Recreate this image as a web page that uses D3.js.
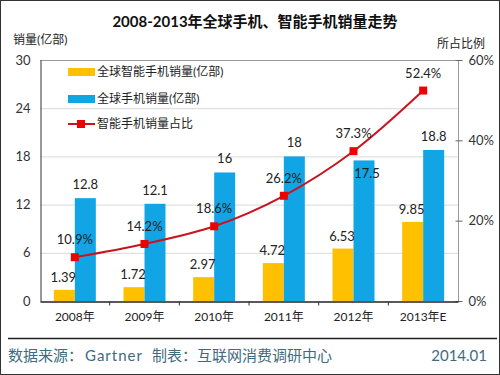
<!DOCTYPE html>
<html>
<head>
<meta charset="utf-8">
<script src="https://cdn.jsdelivr.net/npm/d3@7"></script>
<style>
  body { margin: 0; background: #fff; }
  text { font-family: "Lato", "Noto Sans CJK SC", sans-serif; }
</style>
</head>
<body>
<div id="chart"></div>
<script>
const years = ["2008年", "2009年", "2010年", "2011年", "2012年", "2013年E"]
const smartSales = [1.39, 1.72, 2.97, 4.72, 6.53, 9.85]
const totalSales = [12.8, 12.1, 16, 18, 17.5, 18.8]
const smartShare = [10.9, 14.2, 18.6, 26.2, 37.3, 52.4]
const leftTicks = [0, 6, 12, 18, 24, 30]
const rightTicks = [0, 20, 40, 60]

const width = 500
const height = 375
const margin = { top: 60, bottom: 74, left: 40, right: 42 }

const svg = d3.select("#chart").append("svg").attr("width", width).attr("height", height)

svg.append("rect").attr("x", 0.5).attr("y", 0.5).attr("width", width - 1).attr("height", height - 1)
    .attr("fill", "#fff").attr("stroke", "#333")

const x = d3.scaleBand().domain(years).range([margin.left, width - margin.right])
const y = d3.scaleLinear().domain([0, 30]).range([height - margin.bottom, margin.top])
const y2 = d3.scaleLinear().domain([0, 60]).range([height - margin.bottom, margin.top])
const barW = 21

// grid
svg.append("g").selectAll("line").data(leftTicks.slice(1)).enter().append("line")
    .attr("x1", margin.left).attr("x2", width - margin.right)
    .attr("y1", d => y(d) + 0.5).attr("y2", d => y(d) + 0.5)
    .attr("stroke", d => d == 30 ? "#999" : "#d9d9d9")
svg.append("line").attr("x1", width - margin.right + 0.5).attr("x2", width - margin.right + 0.5)
    .attr("y1", margin.top).attr("y2", height - margin.bottom).attr("stroke", "#999")

// title
svg.append("text").attr("x", 255).attr("y", 27).attr("text-anchor", "middle")
    .attr("font-size", 15).attr("font-weight", "bold").attr("fill", "#111")
    .text("2008-2013年全球手机、智能手机销量走势")
svg.append("text").attr("x", 13).attr("y", 44).attr("font-size", 12).attr("fill", "#222").text("销量(亿部)")
svg.append("text").attr("x", 437).attr("y", 48).attr("font-size", 12).attr("fill", "#222").text("所占比例")

// bars
const groups = svg.append("g")
groups.selectAll(".smart").data(smartSales).enter().append("rect")
    .attr("x", (d, i) => x(years[i]) + x.bandwidth() / 2 - barW)
    .attr("y", d => y(d)).attr("width", barW).attr("height", d => y(0) - y(d))
    .attr("fill", "#ffc000")
groups.selectAll(".total").data(totalSales).enter().append("rect")
    .attr("x", (d, i) => x(years[i]) + x.bandwidth() / 2)
    .attr("y", d => y(d)).attr("width", barW).attr("height", d => y(0) - y(d))
    .attr("fill", "#12a5e6")

// line
const cx = i => x(years[i]) + x.bandwidth() / 2
const line = d3.line().x((d, i) => cx(i)).y(d => y2(d)).curve(d3.curveCatmullRom.alpha(0.5))
svg.append("path").datum(smartShare).attr("d", line).attr("fill", "none")
    .attr("stroke", "#c8141e").attr("stroke-width", 2)
svg.append("g").selectAll("rect").data(smartShare).enter().append("rect")
    .attr("x", (d, i) => cx(i) - 4).attr("y", d => y2(d) - 4).attr("width", 8).attr("height", 8)
    .attr("fill", "#ee0000")

// labels
const lab = svg.append("g").attr("font-size", 13).attr("fill", "#222").attr("text-anchor", "middle")
lab.selectAll(".ls").data(smartSales).enter().append("text")
    .attr("x", (d, i) => cx(i) - barW / 2 - 1).attr("y", d => y(d) - 8).text(d => d)
lab.selectAll(".lt").data(totalSales).enter().append("text")
    .attr("x", (d, i) => cx(i) + barW / 2 + (i == 4 ? 3 : 0))
    .attr("y", (d, i) => i == 4 ? y(d) + 18 : y(d) - 9).text(d => d)
lab.selectAll(".lp").data(smartShare).enter().append("text")
    .attr("x", (d, i) => cx(i)).attr("y", d => y2(d) - 13).text(d => d + "%")

// axes
const leftAxis = svg.append("g").attr("transform", `translate(${margin.left + 0.5},0)`)
    .call(d3.axisLeft(y).tickValues(leftTicks).tickSize(0).tickPadding(10))
leftAxis.select(".domain").attr("stroke", "#333")
leftAxis.selectAll("text").attr("font-size", 13).attr("fill", "#333").attr("font-family", null)

const rightAxis = svg.append("g").attr("transform", `translate(${width - margin.right + 0.5},0)`)
    .call(d3.axisRight(y2).tickValues(rightTicks).tickSize(4).tickPadding(6).tickFormat(d => d + "%"))
rightAxis.select(".domain").remove()
rightAxis.selectAll("line").attr("stroke", "#666").attr("x1", -3)
rightAxis.selectAll("text").attr("font-size", 13).attr("fill", "#333").attr("font-family", null)

const bottomAxis = svg.append("g").attr("transform", `translate(0,${height - margin.bottom + 0.5})`)
    .call(d3.axisBottom(x).tickSize(0).tickPadding(11))
bottomAxis.select(".domain").attr("stroke", "#222").attr("stroke-width", 1.5)
bottomAxis.selectAll("text").attr("font-size", 12).attr("fill", "#222").attr("font-family", null)
bottomAxis.selectAll(".sep").data(years.slice(1)).enter().append("line")
    .attr("x1", d => x(d)).attr("x2", d => x(d)).attr("y1", 0).attr("y2", 4).attr("stroke", "#333")

// legend
const legend = svg.append("g").attr("font-size", 12).attr("fill", "#222")
legend.append("rect").attr("x", 68).attr("y", 68).attr("width", 27).attr("height", 8).attr("fill", "#ffc000")
legend.append("text").attr("x", 97).attr("y", 76).text("全球智能手机销量(亿部)")
legend.append("rect").attr("x", 68).attr("y", 95).attr("width", 27).attr("height", 8).attr("fill", "#12a5e6")
legend.append("text").attr("x", 97).attr("y", 103).text("全球手机销量(亿部)")
legend.append("line").attr("x1", 68).attr("x2", 95).attr("y1", 124).attr("y2", 124).attr("stroke", "#c8141e").attr("stroke-width", 2)
legend.append("rect").attr("x", 77).attr("y", 120).attr("width", 8).attr("height", 8).attr("fill", "#ee0000")
legend.append("text").attr("x", 97).attr("y", 128).text("智能手机销量占比")

// footer
svg.append("line").attr("x1", 8).attr("x2", 497).attr("y1", 338.5).attr("y2", 338.5).attr("stroke", "#222").attr("stroke-width", 1.5)
const footer = svg.append("g").attr("font-size", 15).attr("fill", "#3e6b80")
footer.append("text").attr("x", 8).attr("y", 361).text("数据来源：")
footer.append("text").attr("x", 85).attr("y", 361).attr("letter-spacing", 1).text("Gartner")
footer.append("text").attr("x", 152).attr("y", 361).text("制表：")
footer.append("text").attr("x", 197).attr("y", 361).text("互联网消费调研中心")
footer.append("text").attr("x", 487).attr("y", 361).attr("text-anchor", "end").text("2014.01")
</script>
</body>
</html>
